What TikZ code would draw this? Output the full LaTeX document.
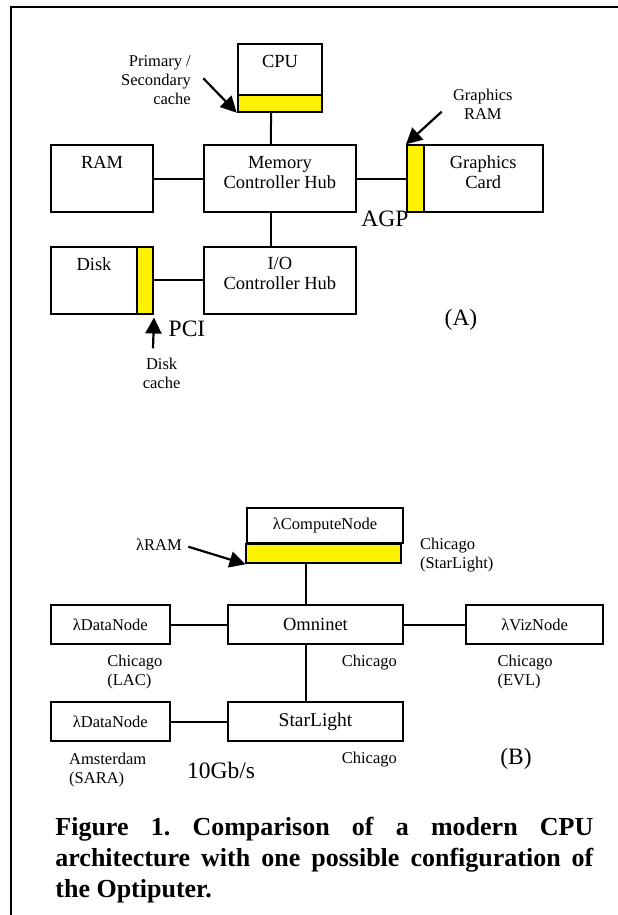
\documentclass[tikz,border=0pt]{standalone}
\usepackage{fontspec}
\setmainfont{Liberation Serif}
\usetikzlibrary{arrows.meta}
\frenchspacing

\newcommand\bigfnt{\fontsize{18.5}{20}\selectfont}
\newcommand\smallfnt{\fontsize{16.5}{19}\selectfont}
\newcommand\hugefnt{\fontsize{23.5}{26}\selectfont}
\newcommand\capfnt{\fontsize{26}{31}\selectfont\bfseries}

\begin{document}
\begin{tikzpicture}[x=1pt, y=-1pt,
  box/.style={draw, line width=2pt, inner sep=0pt, fill=white, font=\bigfnt, align=center},
  cache/.style={box, fill=yellow},
  intext/.style={anchor=north, align=center, font=\bigfnt, inner sep=0pt, yshift=-11.5pt},
  note/.style={font=\smallfnt, inner sep=0pt, align=center},
  big/.style={font=\hugefnt, inner sep=0pt},
  link/.style={line width=2pt},
  arr/.style={-{Triangle[length=16pt, width=16pt]}, line width=2.2pt}
]
\useasboundingbox (0,0) rectangle (618,915);
\draw[line width=2pt] (11,915) -- (11,7.3) -- (618,7.3);

% (A) CPU architecture
\node[box, minimum width=84.7, minimum height=51, label={[intext, yshift=-1pt]north:CPU}] (cpu) at (280.05,69.5) {};
\node[cache, minimum width=84.7, minimum height=16.7] (cpucache) at (280.05,103.35) {};
\node[box, minimum width=101.8, minimum height=67, label={[intext]north:RAM}] (ram) at (102.1,178.8) {};
\node[box, minimum width=152.2, minimum height=67, label={[intext]north:{Memory\\Controller Hub}}] (mch) at (279.9,178.8) {};
\node[cache, minimum width=16.7, minimum height=67] (gcram) at (415.35,178.8) {};
\node[box, minimum width=119.1, minimum height=67, label={[intext]north:{Graphics\\Card}}] (gcard) at (483.25,178.8) {};
\node[box, minimum width=85.6, minimum height=67.3, label={[intext]north:Disk}] (disk) at (94,280.35) {};
\node[cache, minimum width=16.2, minimum height=67.3] (diskcache) at (144.9,280.35) {};
\node[box, minimum width=152.2, minimum height=67.3, label={[intext]north:{I/O\\Controller Hub}}] (ioch) at (279.9,280.35) {};

\node[note, anchor=east, align=right] (l1cache) at (191,80) {Primary /\\Secondary\\cache};
\node[note] (gram) at (482.8,104.3) {Graphics\\RAM};
\node[big] (agp) at (385,219) {AGP};
\node[big] (pci) at (187,329.3) {PCI};
\node[note] (dcache) at (161.6,373.8) {Disk\\cache};
\node[big] (parta) at (461,320) {(A)};

\coordinate (l1tail) at (203.3,78.3);
\coordinate (gramtail) at (441.7,111.7);
\coordinate (dctail) at (153,348.3);

\draw[link] ([xshift=-9]cpucache.south) -- ([xshift=-9]mch.north);
\draw[link] ([xshift=-9]mch.south) -- ([xshift=-9]ioch.north);
\draw[link] (ram) -- (mch);
\draw[link] (mch) -- (gcram);
\draw[link] (diskcache) -- (ioch);
\draw[arr] (l1tail) -- (cpucache.south west);
\draw[arr] (gramtail) -- (gcram.north west);
\draw[arr] (dctail) -- ([yshift=-2.5]diskcache.south east);

% (B) Optiputer
\node[box, font=\smallfnt, minimum width=156.2, minimum height=34.4] (lcn) at (325.1,525.5) {λComputeNode};
\node[cache, minimum width=155.7, minimum height=19.3] (lram) at (323.45,553.65) {};
\node[box, font=\smallfnt, minimum width=118.3, minimum height=39] (ldn1) at (110.35,624.5) {λDataNode};
\node[box, minimum width=175.4, minimum height=39] (omni) at (315.5,624.5) {Omninet};
\node[box, font=\smallfnt, minimum width=136.7, minimum height=39] (lviz) at (534.65,624.5) {λVizNode};
\node[box, font=\smallfnt, minimum width=118.3, minimum height=38.7] (ldn2) at (110.35,721.65) {λDataNode};
\node[box, font=\fontsize{19.5}{21}\selectfont, minimum width=175.4, minimum height=38.7] (star) at (315.5,721.65) {StarLight};

\node[note] (lramtxt) at (159,545) {λRAM};
\node[note, anchor=west, align=left] (locsl) at (419.8,555) {Chicago\\(StarLight)};
\node[note, anchor=west, align=left] (loclac) at (107.2,672) {Chicago\\(LAC)};
\node[note, anchor=west] (locomni) at (341.7,662.3) {Chicago};
\node[note, anchor=west, align=left] (locevl) at (497.4,672) {Chicago\\(EVL)};
\node[note, anchor=west, align=left] (locsara) at (69,769.7) {Amsterdam\\(SARA)};
\node[big] (rate) at (221,770) {10Gb/s};
\node[note, anchor=west] (locstar) at (341.7,759.3) {Chicago};
\node[big] (partb) at (516,759.3) {(B)};

\coordinate (lramtail) at (188.3,546.7);
\draw[arr] (lramtail) -- ([xshift=1]lram.south west);
\draw[link] ([xshift=-9.2]omni.north) -- ([xshift=-9.2]omni.north |- lram.south);
\draw[link] ([xshift=-9.2]omni.south) -- ([xshift=-9.2]star.north);
\draw[link] (ldn1) -- (omni);
\draw[link] (omni) -- (lviz);
\draw[link] (ldn2) -- (star);

\node[anchor=north west, text width=538pt, align=justify, inner sep=0pt, font=\capfnt] (caption) at (55.2,817)
  {Figure 1. Comparison of a modern CPU\linebreak architecture with one possible configuration of\linebreak the Optiputer.};
\end{tikzpicture}
\end{document}
